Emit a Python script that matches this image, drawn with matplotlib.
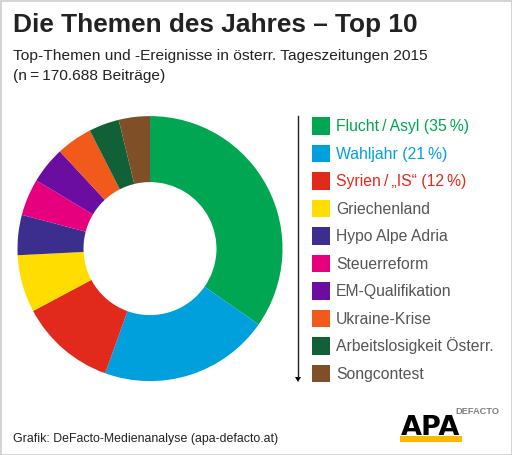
import matplotlib
matplotlib.use('Agg')
import matplotlib.pyplot as plt
from matplotlib.patches import Rectangle, Polygon

categories = ['Flucht\u2009/\u2009Asyl (35\u2009%)', 'Wahljahr (21\u2009%)', 'Syrien\u2009/\u2009„IS“ (12\u2009%)', 'Griechenland',
              'Hypo Alpe Adria', 'Steuerreform', 'EM-Qualifikation', 'Ukraine-Krise',
              'Arbeitslosigkeit Österr.', 'Songcontest']
values = [34.7, 20.8, 11.7, 7.0, 4.9, 4.5, 4.5, 4.4, 3.7, 3.8]
colors = ['#00A651', '#00A0DC', '#E1291C', '#FFDD00', '#3B2E8F', '#E6007E', '#6A0DA0', '#F15A1A', '#116038', '#7F4F28']
text_colors = ['#00A651', '#00A0DC', '#E1291C'] + ['#555555'] * 7

plt.rcParams['font.family'] = ['Liberation Sans', 'DejaVu Sans']
fig = plt.figure(figsize=(5.12, 4.55), dpi=100)
ax = fig.add_axes([0, 0, 1, 1])
ax.set_xlim(0, 512); ax.set_ylim(455, 0); ax.axis('off')

ax.add_patch(Rectangle((0.5, 0.5), 511, 454, fc='white', ec='#CCCCCC', lw=1.2))

ax.text(13, 32, 'Die Themen des Jahres – Top 10', fontsize=18.9, fontweight='bold', color='#222222', va='baseline')
ax.text(13, 60, 'Top-Themen und -Ereignisse in österr. Tageszeitungen 2015', fontsize=11.15, color='#222222', va='baseline')
ax.text(13, 80, '(n\u2009=\u2009170.688 Beiträge)', fontsize=11.15, color='#222222', va='baseline')

ax.pie(values, colors=colors, startangle=-90, counterclock=True, center=(150, 248.6), radius=132.5,
       wedgeprops=dict(width=66, linewidth=0), frame=False)
ax.set_xlim(0, 512); ax.set_ylim(455, 0); ax.set_aspect('auto'); ax.axis('off')

# arrow
ax.plot([298, 298], [116, 377], color='#222222', lw=1)
ax.add_patch(Polygon([[295, 377], [301, 377], [298, 382]], fc='black', ec='none'))

# legend
for i, (c, tc, col) in enumerate(zip(categories, text_colors, colors)):
    y = 125.5 + i * 27.55
    ax.add_patch(Rectangle((312, y - 8.5), 17.5, 17.5, fc=col, ec='none'))
    ax.text(336, y + 5.5, c, fontsize=11.3, color=tc, va='baseline')

ax.text(13, 442, 'Grafik: DeFacto-Medienanalyse (apa-defacto.at)', fontsize=8.9, color='#222222', va='baseline')

# logo
ax.text(431, 435, 'APA', fontsize=19.5, fontfamily='DejaVu Sans', fontweight='bold', color='black', ha='center', va='baseline')
ax.add_patch(Rectangle((400, 436), 62, 6, fc='#FBB800', ec='none'))
ax.text(477.5, 412, 'DEFACTO', fontsize=6.7, fontweight='bold', color='#808080', ha='center', va='center')

fig.savefig('out.png', dpi=100)
